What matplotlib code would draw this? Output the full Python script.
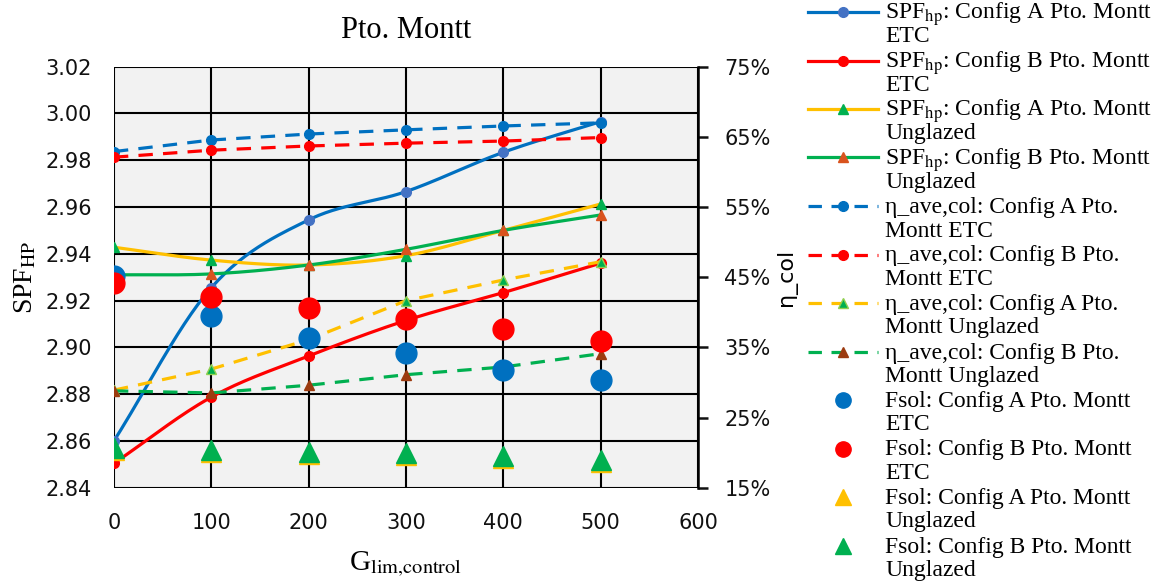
import numpy as np
import matplotlib
matplotlib.use("Agg")
import matplotlib.pyplot as plt
from matplotlib.ticker import FuncFormatter
from matplotlib.lines import Line2D

plt.rcParams['mathtext.fontset'] = 'stix'

# ---------------- data ----------------
g_lim = [0, 100, 200, 300, 400, 500]

spf_a_etc = [2.860, 2.9255, 2.9545, 2.9666, 2.9834, 2.9965]
spf_b_etc = [2.8504, 2.8787, 2.8963, 2.9115, 2.9234, 2.936]
spf_a_ung = [2.9428, 2.9373, 2.9352, 2.9392, 2.950, 2.9613]
spf_b_ung = [2.931, 2.9314, 2.9352, 2.9419, 2.950, 2.9566]

eta_a_etc = [62.9, 64.55, 65.4, 66.0, 66.55, 67.0]
eta_b_etc = [62.1, 63.1, 63.7, 64.1, 64.4, 64.9]
eta_a_ung = [28.9, 31.9, 36.1, 41.65, 44.6, 47.2]
eta_b_ung = [28.8, 28.5, 29.6, 31.1, 32.2, 34.1]

fsol_a_etc = [45.2, 39.5, 36.4, 34.15, 31.8, 30.3]
fsol_b_etc = [44.2, 42.2, 40.6, 39.1, 37.6, 35.95]
fsol_a_ung = [20.3, 20.1, 19.8, 19.6, 19.2, 18.7]
fsol_b_ung = [20.6, 20.4, 20.1, 19.9, 19.5, 19.0]

left_ticks = [2.84, 2.86, 2.88, 2.90, 2.92, 2.94, 2.96, 2.98, 3.00, 3.02]
right_ticks = [15, 25, 35, 45, 55, 65, 75]
x_ticks = [0, 100, 200, 300, 400, 500, 600]

labels = [
    ("SPF$_{\\mathrm{hp}}$: Config A Pto. Montt", "ETC"),
    ("SPF$_{\\mathrm{hp}}$: Config B Pto. Montt", "ETC"),
    ("SPF$_{\\mathrm{hp}}$: Config A Pto. Montt", "Unglazed"),
    ("SPF$_{\\mathrm{hp}}$: Config B Pto. Montt", "Unglazed"),
    ("η_ave,col: Config A Pto.", "Montt ETC"),
    ("η_ave,col: Config B Pto.", "Montt ETC"),
    ("η_ave,col: Config A Pto.", "Montt Unglazed"),
    ("η_ave,col: Config B Pto.", "Montt Unglazed"),
    ("Fsol: Config A Pto. Montt", "ETC"),
    ("Fsol: Config B Pto. Montt", "ETC"),
    ("Fsol: Config A Pto. Montt", "Unglazed"),
    ("Fsol: Config B Pto. Montt", "Unglazed"),
]


def smooth(x, y, n=30):
    """Catmull-Rom curve through the points (rendering only)."""
    x = np.asarray(x, float)
    y = np.asarray(y, float)
    P = np.column_stack([x, y])
    P = np.vstack([2 * P[0] - P[1], P, 2 * P[-1] - P[-2]])
    xs, ys = [], []
    t = np.linspace(0, 1, n)
    for i in range(1, len(P) - 2):
        p0, p1, p2, p3 = P[i - 1], P[i], P[i + 1], P[i + 2]
        c = 0.5 * (np.outer(2 * np.ones_like(t), p1)
                   + np.outer(t, (-p0 + p2))
                   + np.outer(t ** 2, (2 * p0 - 5 * p1 + 4 * p2 - p3))
                   + np.outer(t ** 3, (-p0 + 3 * p1 - 3 * p2 + p3)))
        xs.extend(c[:, 0])
        ys.extend(c[:, 1])
    return np.array(xs), np.array(ys)


BLUE = '#0070C0'
RED = '#FF0000'
YEL = '#FFC000'
GRN = '#00B050'
DASH = (0, (4.5, 3.2))

W, H = 1158, 586
fig = plt.figure(figsize=(W / 100, H / 100), dpi=100)
ax = fig.add_axes([0.0984, 0.1678, 0.5044, 0.7184])
ax2 = ax.twinx()

ax.set_facecolor('#F2F2F2')
ax.set_xlim(0, 600)
ax.set_ylim(2.84, 3.02)
ax2.set_ylim(15, 75)

lw = 2.3
legend_specs = []  # (kind, color, marker, mfc, mec, ms)

spf_specs = [
    (spf_a_etc, BLUE, 'o', '#4472C4', '#4472C4'),
    (spf_b_etc, RED, 'o', RED, RED),
    (spf_a_ung, YEL, '^', GRN, GRN),
    (spf_b_ung, GRN, '^', '#D9531E', '#D9531E'),
]
for ys, col, mk, mfc, mec in spf_specs:
    sx, sy = smooth(g_lim, ys)
    ax.plot(sx, sy, color=col, lw=lw, zorder=3, solid_capstyle='round')
    ax.plot(g_lim, ys, ls='none', marker=mk, ms=7, mfc=mfc, mec=mec, zorder=4)
    legend_specs.append(('-', col, mk, mfc, mec, 7))

eta_specs = [
    (eta_a_etc, BLUE, 'o', BLUE, BLUE),
    (eta_b_etc, RED, 'o', RED, RED),
    (eta_a_ung, YEL, '^', GRN, '#92D050'),
    (eta_b_ung, GRN, '^', '#9C3B10', '#9C3B10'),
]
for ys, col, mk, mfc, mec in eta_specs:
    ax2.plot(g_lim, ys, color=col, lw=lw, ls=DASH,
             marker=mk, ms=7, mfc=mfc, mec=mec, zorder=3)
    legend_specs.append(('--', col, mk, mfc, mec, 7))

fsol_specs = [
    (fsol_a_etc, 'o', BLUE),
    (fsol_b_etc, 'o', RED),
    (fsol_a_ung, '^', YEL),
    (fsol_b_ung, '^', GRN),
]
for ys, mk, col in fsol_specs:
    ax2.plot(g_lim, ys, ls='none', marker=mk, ms=15, mfc=col, mec=col, zorder=4)
    legend_specs.append(('none', col, mk, col, col, 11))

# grid & axes styling
ax.set_xticks(x_ticks)
ax.set_yticks(left_ticks)
ax2.set_yticks(right_ticks)
ax.grid(True, color='black', lw=1.5)
ax.set_axisbelow(True)
for s in ['top', 'bottom', 'left', 'right']:
    ax.spines[s].set_visible(False)
for s in ['top', 'bottom', 'left']:
    ax2.spines[s].set_visible(False)
ax2.spines['right'].set_linewidth(1.8)
ax2.spines['right'].set_color('black')

ax.tick_params(axis='both', length=0, labelsize=15, colors='#111111')
ax.tick_params(axis='y', pad=16)
ax.tick_params(axis='x', pad=18)
ax2.tick_params(axis='y', length=7, width=1.8, direction='out', pad=12,
                labelsize=15, colors='#111111')
ax.yaxis.set_major_formatter(FuncFormatter(lambda v, p: f"{v:.2f}"))
ax2.yaxis.set_major_formatter(FuncFormatter(lambda v, p: f"{v:.0f}%"))
for lab in ax.get_xticklabels() + ax.get_yticklabels() + ax2.get_yticklabels():
    lab.set_fontfamily('DejaVu Sans')

ax.set_title("Pto. Montt", family='Liberation Serif', fontsize=22, pad=21)
ax.set_xlabel("G$_{\\mathrm{lim{,}control}}$", family='Liberation Serif', fontsize=21, labelpad=12)
ax.set_ylabel("SPF$_{\\mathrm{HP}}$", family='Liberation Serif', fontsize=20, labelpad=5)
ax2.set_ylabel("η_col", family='DejaVu Sans', fontsize=16, labelpad=4)

# manual legend: handle aligned with the first text line
x0, x1, xt = 808, 878, 885
for i, ((l1, l2), (kind, col, mk, mfc, mec, ms)) in enumerate(zip(labels, legend_specs)):
    yc = 12 + i * 48.5
    fy = 1 - yc / H
    if kind != 'none':
        fig.add_artist(Line2D([x0 / W, x1 / W], [fy, fy], transform=fig.transFigure,
                              color=col, lw=lw, ls=('-' if kind == '-' else (0, (4.2, 3.0)))))
    fig.add_artist(Line2D([(x0 + x1) / 2 / W], [fy], transform=fig.transFigure,
                          ls='none', marker=mk, ms=ms, mfc=mfc, mec=mec))
    fig.text(xt / W, 1 - (yc + 7) / H, l1, family='Liberation Serif', fontsize=17,
             va='baseline', ha='left')
    fig.text(xt / W, 1 - (yc + 30.5) / H, l2, family='Liberation Serif', fontsize=17,
             va='baseline', ha='left')

fig.savefig("out.png", dpi=100)
